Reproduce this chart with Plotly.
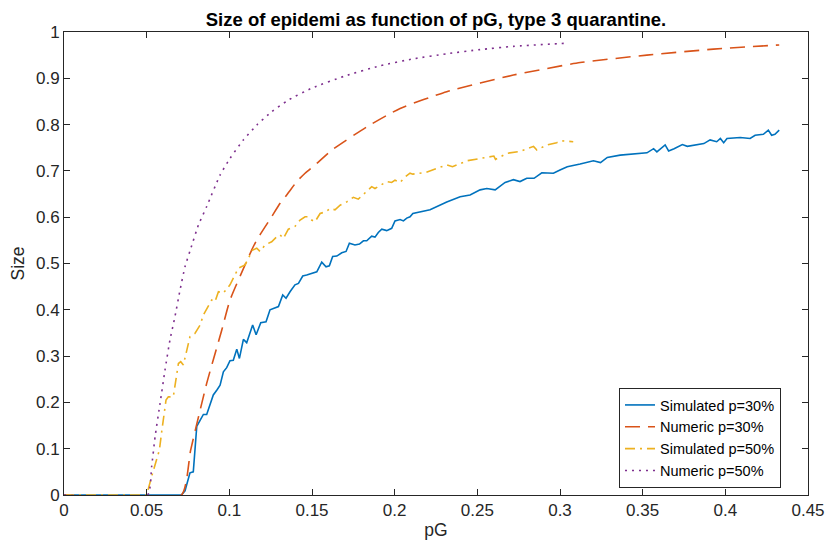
import plotly.graph_objects as go

# ---- data ----
sim30_x = [0, 0.071, 0.0732, 0.0762, 0.0782, 0.0803, 0.0823, 0.0843, 0.0863, 0.0883, 0.0903,
           0.0927, 0.0944, 0.0964, 0.0984, 0.1004, 0.1024, 0.1045, 0.1061, 0.1085, 0.1105,
           0.1141, 0.1162, 0.1190, 0.1222, 0.1246, 0.1297, 0.1323, 0.1343, 0.1367, 0.1397,
           0.1418, 0.1444, 0.1468, 0.1498, 0.1529, 0.1559, 0.1585, 0.1605, 0.1625, 0.1650,
           0.1680, 0.1706, 0.1726, 0.1760, 0.1787, 0.1811, 0.1831, 0.1861, 0.1881, 0.1901,
           0.1922, 0.1952, 0.1982, 0.2002, 0.2033, 0.2053, 0.2073, 0.2093, 0.2110, 0.2214,
           0.2275, 0.2315, 0.2396, 0.2456, 0.2517, 0.2557, 0.2608, 0.2668, 0.2718, 0.2758,
           0.2799, 0.2843, 0.2890, 0.2960, 0.3000, 0.3044, 0.3122, 0.3202, 0.3245, 0.3286,
           0.3364, 0.3445, 0.3526, 0.3566, 0.3586, 0.3636, 0.3657, 0.3690, 0.3740, 0.3770,
           0.3810, 0.3870, 0.3908, 0.3948, 0.3970, 0.3990, 0.4010, 0.4090, 0.4150, 0.4180,
           0.4230, 0.4260, 0.4280, 0.4300, 0.4326]
sim30_y = [0, 0, 0.009, 0.048, 0.050, 0.148, 0.161, 0.174, 0.174, 0.194, 0.216,
           0.228, 0.237, 0.266, 0.275, 0.290, 0.291, 0.315, 0.295, 0.336, 0.329,
           0.367, 0.346, 0.372, 0.374, 0.400, 0.407, 0.432, 0.425, 0.439, 0.454,
           0.457, 0.473, 0.475, 0.479, 0.482, 0.503, 0.493, 0.495, 0.515, 0.516,
           0.523, 0.526, 0.544, 0.540, 0.542, 0.549, 0.549, 0.559, 0.557, 0.567,
           0.574, 0.571, 0.576, 0.592, 0.595, 0.592, 0.598, 0.601, 0.608, 0.616,
           0.626, 0.633, 0.644, 0.648, 0.659, 0.662, 0.659, 0.675, 0.681, 0.677,
           0.684, 0.684, 0.696, 0.695, 0.702, 0.709, 0.715, 0.722, 0.718, 0.729,
           0.734, 0.736, 0.739, 0.748, 0.741, 0.756, 0.743, 0.748, 0.757, 0.753,
           0.756, 0.759, 0.767, 0.763, 0.770, 0.761, 0.770, 0.772, 0.770, 0.777,
           0.779, 0.788, 0.777, 0.779, 0.788]

num30_x = [0, 0.0710, 0.0766, 0.0863, 0.0954, 0.1004, 0.1095, 0.1135, 0.1166, 0.1216, 0.1256,
           0.1307, 0.1347, 0.1408, 0.1458, 0.1529, 0.1620, 0.1831, 0.2033, 0.2315, 0.2718,
           0.3122, 0.3525, 0.3928, 0.4326]
num30_y = [0, 0, 0.097, 0.241, 0.356, 0.421, 0.497, 0.529, 0.551, 0.579, 0.601,
           0.630, 0.648, 0.677, 0.695, 0.716, 0.745, 0.795, 0.835, 0.871, 0.907,
           0.934, 0.950, 0.963, 0.972]

sim50_x = [0, 0.050, 0.0530, 0.0577, 0.0591, 0.0617, 0.0631, 0.0661, 0.0692, 0.0706, 0.0722,
           0.0762, 0.0792, 0.0823, 0.0843, 0.0893, 0.0913, 0.0934, 0.0964, 0.1004, 0.1055,
           0.1095, 0.1141, 0.1166, 0.1186, 0.1216, 0.1256, 0.1287, 0.1307, 0.1327, 0.1357,
           0.1397, 0.1428, 0.1458, 0.1478, 0.1498, 0.1518, 0.1549, 0.1585, 0.1609, 0.1639,
           0.1670, 0.1710, 0.1750, 0.1780, 0.1821, 0.1861, 0.1881, 0.1922, 0.1952, 0.1982,
           0.2002, 0.2033, 0.2063, 0.2093, 0.2110, 0.2190, 0.2315, 0.2350, 0.2440, 0.2520,
           0.2600, 0.2610, 0.2680, 0.2760, 0.2840, 0.2860, 0.2920, 0.2980, 0.3010, 0.3080]
sim50_y = [0, 0, 0.040, 0.097, 0.137, 0.205, 0.212, 0.212, 0.284, 0.288, 0.281,
           0.342, 0.349, 0.367, 0.389, 0.421, 0.417, 0.439, 0.436, 0.454, 0.490,
           0.497, 0.529, 0.533, 0.526, 0.540, 0.547, 0.558, 0.562, 0.554, 0.574,
           0.580, 0.594, 0.601, 0.601, 0.594, 0.590, 0.608, 0.612, 0.619, 0.616,
           0.626, 0.633, 0.643, 0.639, 0.652, 0.666, 0.662, 0.670, 0.677, 0.675,
           0.680, 0.675, 0.687, 0.695, 0.693, 0.697, 0.713, 0.709, 0.722, 0.727,
           0.732, 0.725, 0.738, 0.742, 0.753, 0.745, 0.756, 0.761, 0.765, 0.763]

num50_x = [0, 0.0505, 0.0530, 0.0551, 0.0581, 0.0611, 0.0641, 0.0671, 0.0702, 0.0732, 0.0762,
           0.0813, 0.0863, 0.0944, 0.1004, 0.1085, 0.1166, 0.1256, 0.1357, 0.1500, 0.1700,
           0.1910, 0.2113, 0.2315, 0.2517, 0.2718, 0.3050]
num50_y = [0, 0, 0.061, 0.126, 0.198, 0.270, 0.335, 0.385, 0.443, 0.493, 0.527,
           0.583, 0.623, 0.691, 0.727, 0.767, 0.799, 0.828, 0.853, 0.879, 0.905,
           0.927, 0.942, 0.953, 0.962, 0.969, 0.976]

x_ticks = [0, 0.05, 0.1, 0.15, 0.2, 0.25, 0.3, 0.35, 0.4, 0.45]
x_labels = ["0", "0.05", "0.1", "0.15", "0.2", "0.25", "0.3", "0.35", "0.4", "0.45"]
y_ticks = [0, 0.1, 0.2, 0.3, 0.4, 0.5, 0.6, 0.7, 0.8, 0.9, 1]
y_labels = ["0", "0.1", "0.2", "0.3", "0.4", "0.5", "0.6", "0.7", "0.8", "0.9", "1"]

names = ["Simulated p=30%", "Numeric p=30%", "Simulated p=50%", "Numeric p=50%"]

FONT = "Liberation Sans, Arial, Helvetica, sans-serif"
AX = "#262626"

fig = go.Figure()
fig.add_trace(go.Scatter(x=sim30_x, y=sim30_y, mode="lines", name=names[0],
                         line=dict(color="#0072BD", width=1.6)))
fig.add_trace(go.Scatter(x=num30_x, y=num30_y, mode="lines", name=names[1],
                         line=dict(color="#D95319", width=1.6, dash="15px,8px",
                                   shape="spline", smoothing=0.5)))
fig.add_trace(go.Scatter(x=sim50_x, y=sim50_y, mode="lines", name=names[2],
                         line=dict(color="#EDB120", width=1.6, dash="10px,5px,2px,5px")))
fig.add_trace(go.Scatter(x=num50_x, y=num50_y, mode="lines", name=names[3],
                         line=dict(color="#7E2F8E", width=1.6, dash="2px,5px",
                                   shape="spline", smoothing=0.5)))

axis_common = dict(showline=True, linecolor=AX, linewidth=1, mirror="ticks",
                   ticks="inside", ticklen=6, tickwidth=1, tickcolor=AX,
                   showgrid=False, zeroline=False, automargin=False,
                   tickfont=dict(family=FONT, size=17, color=AX))

fig.update_xaxes(range=[0, 0.45], tickvals=x_ticks, ticktext=x_labels,
                 title=dict(text="pG", font=dict(family=FONT, size=17.5, color=AX), standoff=4),
                 **axis_common)
fig.update_yaxes(range=[0, 1], tickvals=y_ticks, ticktext=y_labels,
                 title=dict(text="Size", font=dict(family=FONT, size=17.5, color=AX), standoff=6),
                 **axis_common)

fig.update_layout(
    width=829, height=542,
    margin=dict(l=64, r=21, t=32, b=47, autoexpand=False),
    paper_bgcolor="white", plot_bgcolor="white",
    title=dict(text="<b>Size of epidemi as function of pG, type 3 quarantine.</b>",
               x=0.5, xref="paper", y=1 - 19.5 / 542, yref="container", yanchor="middle",
               font=dict(family=FONT, size=18.5, color="black")),
    legend=dict(x=0.9637, y=0.1231, xanchor="right", yanchor="middle",
                bgcolor="white", bordercolor=AX, borderwidth=1,
                font=dict(family=FONT, size=14.5, color="black"),
                tracegroupgap=0, entrywidth=148, entrywidthmode="pixels"),
    showlegend=True,
)

fig.write_html("out.html")
